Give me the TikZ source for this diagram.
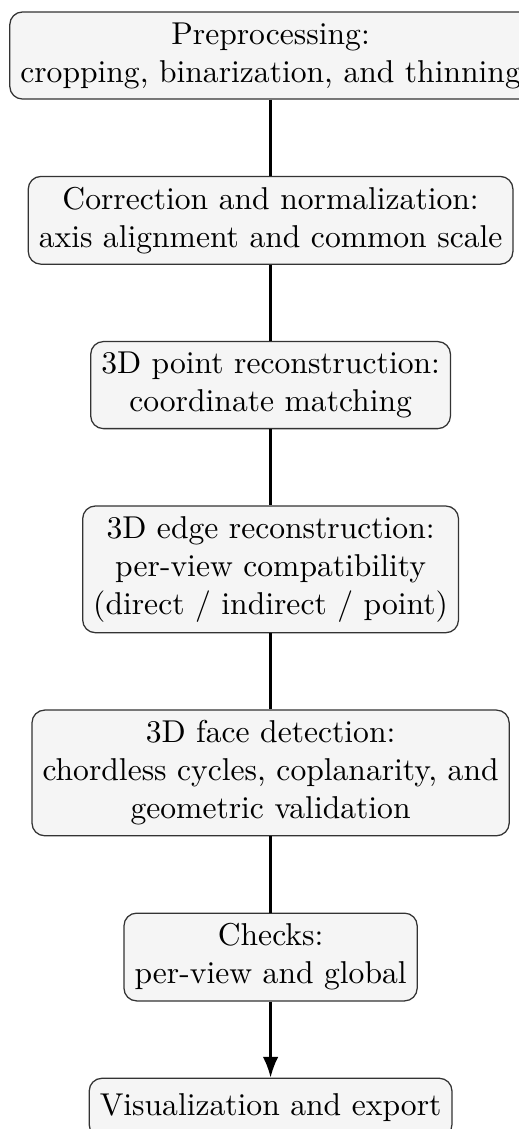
\documentclass[tikz,border=0pt]{standalone}
\usepackage{tikz}
\usetikzlibrary{arrows.meta,positioning}

\begin{document}
\begin{tikzpicture}[node distance=24.1pt,
  stage/.style={draw=black!80,rounded corners,fill=black!4,align=center},
  link/.style={thick}]
\node[stage] (prep) {Preprocessing:\\cropping, binarization, and thinning};
\node[stage,below=of prep] (norm) {Correction and normalization:\\axis alignment and common scale};
\node[stage,below=of norm] (points) {3D point reconstruction:\\coordinate matching};
\node[stage,below=of points] (edges) {3D edge reconstruction:\\per-view compatibility\\(direct / indirect / point)};
\node[stage,below=of edges] (faces) {3D face detection:\\chordless cycles, coplanarity, and\\geometric validation};
\node[stage,below=of faces] (checks) {Checks:\\per-view and global};
\node[stage,below=of checks,minimum height=18.7pt] (vis) {Visualization and export};
\draw[link] (prep) -- (norm);
\draw[link] (norm) -- (points);
\draw[link] (points) -- (edges);
\draw[link] (edges) -- (faces);
\draw[link] (faces) -- (checks);
\draw[link,-{Latex}] (checks) -- (vis);
% page cuts the picture like the original
\pgfresetboundingbox
\path[use as bounding box] ([xshift=-2.9pt,yshift=3.6pt]prep.north west) rectangle ++(164pt,-357.4pt);
\end{tikzpicture}
\end{document}
